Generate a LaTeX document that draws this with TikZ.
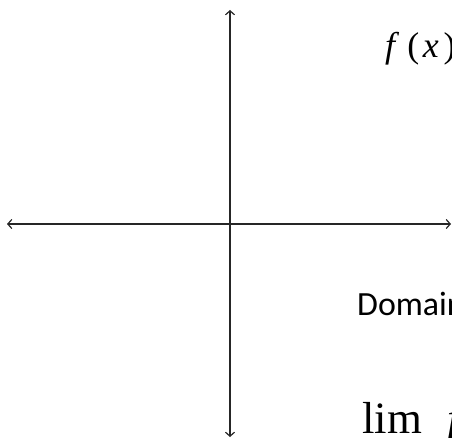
\documentclass[tikz,border=0pt]{standalone}
\usepackage{fontspec}
\setmainfont{Liberation Serif}
\newfontfamily\calib{Carlito}
\usetikzlibrary{arrows.meta}
\begin{document}
\begin{tikzpicture}[x=1bp,y=-1bp,
  axis/.style={line width=1.4bp, draw=black!85,
    {Straight Barb[length=4bp,width=9bp,line width=1.2bp]}-{Straight Barb[length=4bp,width=9bp,line width=1.2bp]}},
  txt/.style={inner sep=0pt, anchor=base west}]
\useasboundingbox (0,0) rectangle (452,438);
\clip (0,0) rectangle (452,438);
\coordinate (xl) at (7,224);
\coordinate (xr) at (451,224);
\coordinate (yt) at (230,10);
\coordinate (yb) at (230,437);
\draw[axis] (xl) -- (xr);
\draw[axis] (yt) -- (yb);
\node[txt, font=\fontsize{36}{36}\selectfont] (fx) at (385,58) {\textit{f}\kern8bp(\kern3.5bp\textit{x}\kern5bp)};
\node[txt, font=\calib\fontsize{34}{34}\selectfont] (dom) at (357,315) {Domain};
\node[txt, font=\fontsize{45}{45}\selectfont] (lim) at (362,433) {lim};
\node[txt, font=\fontsize{45}{45}\selectfont\itshape] (limf) at (447,433) {f};
\end{tikzpicture}
\end{document}
